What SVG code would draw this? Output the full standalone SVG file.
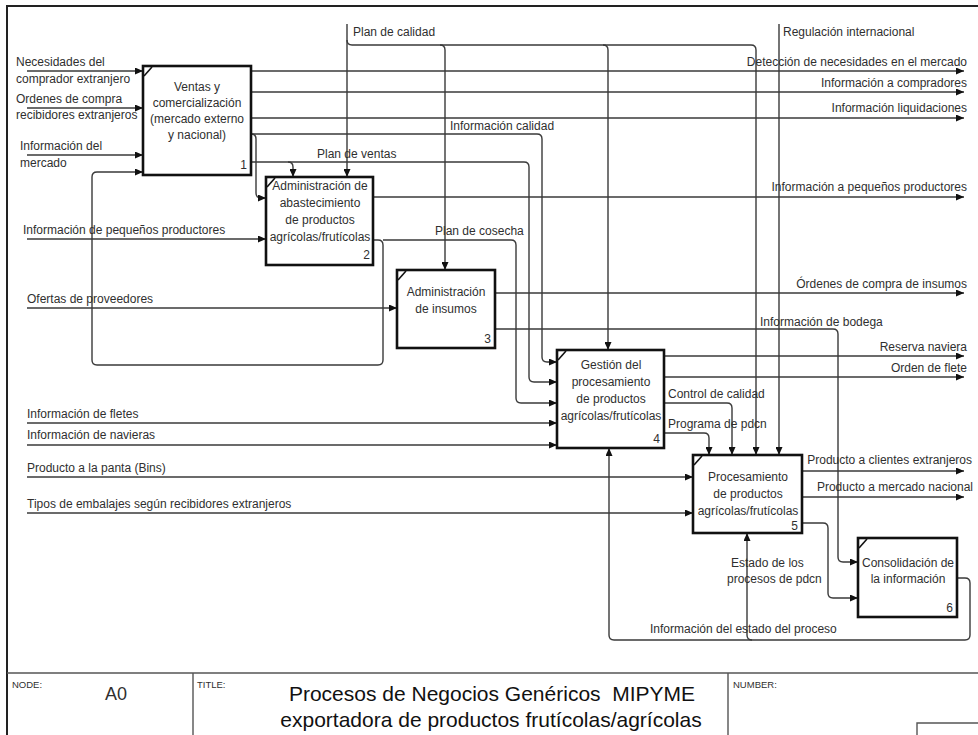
<svg xmlns="http://www.w3.org/2000/svg" width="978" height="735" viewBox="0 0 978 735">
  <defs>
    <marker id="arrow" markerUnits="userSpaceOnUse" markerWidth="9" markerHeight="7" refX="8" refY="3.5" orient="auto">
      <path d="M0,0 L8,3.5 L0,7 z" fill="#111"/>
    </marker>
    <style>
      .frame { fill: none; stroke: #222; stroke-width: 2; }
      .rule { fill: none; stroke: #555; stroke-width: 1.4; }
      .box { fill: #fff; stroke: #111; stroke-width: 2.6; }
      .tick { stroke: #111; stroke-width: 1.6; }
      .conn path { fill: none; stroke: #3a3a3a; stroke-width: 1.4; }
      .arr { marker-end: url(#arrow); }
      text { font-family: "Liberation Sans", Arial, sans-serif; fill: #2f2f2f; }
      .lbl { font-size: 12px; }
      .end { text-anchor: end; }
      .mid { text-anchor: middle; }
      .num { font-size: 12px; text-anchor: end; }
      .small { font-size: 9.5px; }
      .title { font-size: 21px; text-anchor: middle; fill: #111; white-space: pre; }
    </style>
  </defs>

  <rect width="978" height="735" fill="#fff"/>

  <!-- drawing frame -->
  <path class="frame" d="M7,735 V6 H978"/>

  <!-- connectors -->
  <g id="connectors" class="conn">
    <!-- inputs to activity 1 -->
    <path class="arr" d="M27,71 H143"/>
    <path class="arr" d="M27,108 H143"/>
    <path class="arr" d="M27,155 H143"/>
    <!-- feedback from activity 2 back to activity 1 -->
    <path class="arr" d="M373,240 H378 Q383,240 383,245 V360 Q383,365 378,365 H97 Q92,365 92,360 V177 Q92,172 97,172 H143"/>
    <!-- Plan de cosecha -->
    <path class="arr" d="M383,240 H511 Q516,240 516,245 V398 Q516,403 521,403 H557"/>
    <!-- Información de pequeños productores (input) -->
    <path class="arr" d="M27,239 H266"/>
    <!-- Información calidad -->
    <path class="arr" d="M251,134 H537 Q542,134 542,139 V357 Q542,362 547,362 H557"/>
    <path class="arr" d="M251,134 Q256,134 256,139 V193 Q256,198 261,198 H266"/>
    <!-- Plan de ventas -->
    <path class="arr" d="M251,162 H524 Q529,162 529,167 V377 Q529,382 534,382 H557"/>
    <path class="arr" d="M288,162 Q293,162 293,167 V177"/>
    <!-- Plan de calidad -->
    <path class="arr" d="M347,24 V177"/>
    <path class="arr" d="M347,40 Q347,45 352,45 H751 Q756,45 756,50 V455"/>
    <path class="arr" d="M440,45 Q445,45 445,50 V270"/>
    <path class="arr" d="M603,45 Q608,45 608,50 V350"/>
    <!-- Regulación internacional -->
    <path class="arr" d="M779,24 V455"/>
    <!-- outputs of activity 1 -->
    <path class="arr" d="M251,71 H964"/>
    <path class="arr" d="M251,92 H964"/>
    <path class="arr" d="M251,118 H964"/>
    <!-- output of activity 2 -->
    <path class="arr" d="M373,197 H964"/>
    <!-- input and outputs of activity 3 -->
    <path class="arr" d="M27,308 H397"/>
    <path class="arr" d="M495,293 H964"/>
    <path class="arr" d="M495,329 H833 Q838,329 838,334 V557 Q838,562 843,562 H858"/>
    <!-- outputs of activity 4 -->
    <path class="arr" d="M664,356 H964"/>
    <path class="arr" d="M664,377 H964"/>
    <path class="arr" d="M664,403 H727 Q732,403 732,408 V455"/>
    <path class="arr" d="M664,433 H704 Q709,433 709,438 V455"/>
    <!-- inputs of activity 4 -->
    <path class="arr" d="M27,423 H557"/>
    <path class="arr" d="M27,445 H557"/>
    <!-- inputs of activity 5 -->
    <path class="arr" d="M27,477 H693"/>
    <path class="arr" d="M27,513 H693"/>
    <!-- outputs of activity 5 -->
    <path class="arr" d="M802,471 H964"/>
    <path class="arr" d="M802,497 H964"/>
    <path class="arr" d="M802,523 H823 Q828,523 828,528 V593 Q828,598 833,598 H858"/>
    <!-- Información del estado del proceso -->
    <path class="arr" d="M957,578 H965 Q970,578 970,583 V635 Q970,640 965,640 H614 Q609,640 609,635 V448"/>
    <path class="arr" d="M752,640 Q747,640 747,635 V533"/>
  </g>

  <!-- arrow labels -->
  <g id="labels" class="lbl">
    <text x="16" y="66">Necesidades del</text>
    <text x="16" y="83">comprador extranjero</text>
    <text x="16" y="103">Ordenes de compra</text>
    <text x="16" y="119">recibidores extranjeros</text>
    <text x="20" y="150">Información del</text>
    <text x="20" y="167">mercado</text>
    <text x="23" y="234">Información de pequeños productores</text>
    <text x="27" y="303">Ofertas de proveedores</text>
    <text x="27" y="418">Información de fletes</text>
    <text x="27" y="439">Información de navieras</text>
    <text x="27" y="472">Producto a la panta (Bins)</text>
    <text x="27" y="508">Tipos de embalajes según recibidores extranjeros</text>

    <text x="353" y="36">Plan de calidad</text>
    <text x="783" y="36">Regulación internacional</text>
    <text x="450" y="130">Información calidad</text>
    <text x="317" y="158">Plan de ventas</text>
    <text x="435" y="235">Plan de cosecha</text>

    <text class="end" x="967" y="66">Detección de necesidades en el mercado</text>
    <text class="end" x="967" y="87">Información a compradores</text>
    <text class="end" x="967" y="112">Información liquidaciones</text>
    <text class="end" x="967" y="191">Información a pequeños productores</text>
    <text class="end" x="967" y="288">Órdenes de compra de insumos</text>
    <text x="760" y="326">Información de bodega</text>
    <text class="end" x="967" y="351">Reserva naviera</text>
    <text class="end" x="967" y="372">Orden de flete</text>
    <text x="668" y="398">Control de calidad</text>
    <text x="668" y="428">Programa de pdcn</text>
    <text class="end" x="972" y="464">Producto a clientes extranjeros</text>
    <text class="end" x="973" y="491">Producto a mercado nacional</text>
    <text x="731" y="567">Estado de los</text>
    <text x="727" y="583">procesos de pdcn</text>
    <text x="650" y="633">Información del estado del proceso</text>
  </g>

  <!-- activities -->
  <g id="a1">
    <rect class="box" x="143" y="66" width="108" height="109"/>
    <line class="tick" x1="144" y1="76" x2="152" y2="67"/>
    <text class="lbl mid" x="197" y="91">Ventas y</text>
    <text class="lbl mid" x="197" y="107">comercialización</text>
    <text class="lbl mid" x="197" y="123">(mercado externo</text>
    <text class="lbl mid" x="197" y="139">y nacional)</text>
    <text class="num" x="247" y="169">1</text>
  </g>
  <g id="a2">
    <rect class="box" x="266" y="177" width="107" height="88"/>
    <line class="tick" x1="267" y1="187" x2="275" y2="178"/>
    <text class="lbl mid" x="320" y="190">Administración de</text>
    <text class="lbl mid" x="320" y="207">abastecimiento</text>
    <text class="lbl mid" x="320" y="224">de productos</text>
    <text class="lbl mid" x="320" y="241">agrícolas/frutícolas</text>
    <text class="num" x="370" y="259">2</text>
  </g>
  <g id="a3">
    <rect class="box" x="397" y="270" width="98" height="78"/>
    <line class="tick" x1="398" y1="280" x2="406" y2="271"/>
    <text class="lbl mid" x="446" y="296">Administración</text>
    <text class="lbl mid" x="446" y="313">de insumos</text>
    <text class="num" x="491" y="343">3</text>
  </g>
  <g id="a4">
    <rect class="box" x="557" y="350" width="107" height="98"/>
    <line class="tick" x1="558" y1="360" x2="566" y2="351"/>
    <text class="lbl mid" x="611" y="369">Gestión del</text>
    <text class="lbl mid" x="611" y="386">procesamiento</text>
    <text class="lbl mid" x="611" y="403">de productos</text>
    <text class="lbl mid" x="611" y="420">agrícolas/frutícolas</text>
    <text class="num" x="660" y="443">4</text>
  </g>
  <g id="a5">
    <rect class="box" x="693" y="455" width="109" height="78"/>
    <line class="tick" x1="694" y1="465" x2="702" y2="456"/>
    <text class="lbl mid" x="748" y="481">Procesamiento</text>
    <text class="lbl mid" x="748" y="498">de productos</text>
    <text class="lbl mid" x="748" y="515">agrícolas/frutícolas</text>
    <text class="num" x="798" y="530">5</text>
  </g>
  <g id="a6">
    <rect class="box" x="858" y="538" width="99" height="79"/>
    <line class="tick" x1="859" y1="548" x2="867" y2="539"/>
    <text class="lbl mid" x="908" y="567">Consolidación de</text>
    <text class="lbl mid" x="908" y="583">la información</text>
    <text class="num" x="953" y="612">6</text>
  </g>

  <!-- title block -->
  <g id="title-block">
    <path class="rule" d="M7,673 H978 M193,673 V735 M728,673 V735 M917,735 V723 H978"/>
    <text class="small" x="12" y="688">NODE:</text>
    <text x="105" y="700" font-size="18" fill="#111">A0</text>
    <text class="small" x="197" y="688">TITLE:</text>
    <text class="title" x="492" y="701" xml:space="preserve">Procesos de Negocios Genéricos  MIPYME</text>
    <text class="title" x="491" y="727">exportadora de productos frutícolas/agrícolas</text>
    <text class="small" x="733" y="688">NUMBER:</text>
  </g>
</svg>
